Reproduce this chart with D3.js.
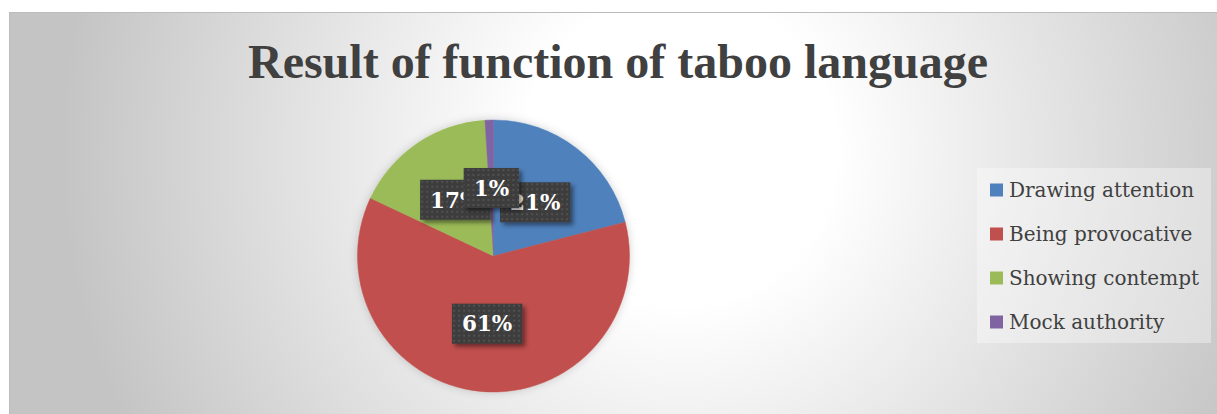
<!DOCTYPE html>
<html>
<head>
<script src="https://d3js.org/d3.v7.min.js"></script>
<style>
    body { margin: 0; background: #ffffff; }
    svg { display: block; }
</style>
</head>
<body>
<div id="chart"></div>
<script>
    // chart data
    var categories = ["Drawing attention", "Being provocative", "Showing contempt", "Mock authority"];
    var values = [21, 61, 17, 1];
    var colors = ["#4f81bd", "#c0504d", "#9bbb59", "#8064a2"];
    var title = "Result of function of taboo language";

    var width = 1217, height = 414;
    var svg = d3.select("#chart").append("svg")
        .attr("width", width)
        .attr("height", height);

    var defs = svg.append("defs");

    // soft grey radial background like the office chart area
    var bg = defs.append("radialGradient")
        .attr("id", "bg")
        .attr("gradientUnits", "userSpaceOnUse")
        .attr("cx", 680).attr("cy", 150).attr("r", 620);
    bg.append("stop").attr("offset", "0").attr("stop-color", "#ffffff");
    bg.append("stop").attr("offset", "0.25").attr("stop-color", "#ffffff");
    bg.append("stop").attr("offset", "1").attr("stop-color", "#c4c4c4");

    // dotted fill for the data label boxes
    var pat = defs.append("pattern")
        .attr("id", "dots")
        .attr("patternUnits", "userSpaceOnUse")
        .attr("width", 5).attr("height", 5);
    pat.append("rect").attr("width", 5).attr("height", 5).attr("fill", "#3d3d3d");
    pat.append("rect").attr("x", 1).attr("y", 1).attr("width", 2).attr("height", 2).attr("fill", "#515151");

    var shadow = defs.append("filter").attr("id", "shadow")
        .attr("x", "-30%").attr("y", "-30%").attr("width", "160%").attr("height", "160%");
    shadow.append("feDropShadow")
        .attr("dx", 3).attr("dy", 3).attr("stdDeviation", 2)
        .attr("flood-color", "#000").attr("flood-opacity", 0.45);

    var pieShadow = defs.append("filter").attr("id", "pieShadow")
        .attr("x", "-20%").attr("y", "-20%").attr("width", "140%").attr("height", "140%");
    pieShadow.append("feDropShadow")
        .attr("dx", 0).attr("dy", 0).attr("stdDeviation", 4)
        .attr("flood-color", "#000").attr("flood-opacity", 0.18);

    // chart area
    svg.append("rect")
        .attr("x", 9.5).attr("y", 12.5)
        .attr("width", width).attr("height", height)
        .attr("fill", "url(#bg)")
        .attr("stroke", "#bcbcbc");

    svg.append("text")
        .attr("x", 618).attr("y", 78)
        .attr("text-anchor", "middle")
        .attr("font-family", "Liberation Serif, Times New Roman, serif")
        .attr("font-weight", "bold")
        .attr("font-size", 48)
        .attr("fill", "#404040")
        .text(title);

    // pie
    var cx = 493.5, cy = 256, radius = 136;
    var data = categories.map(function(c, i) { return { name: c, value: values[i], color: colors[i] }; });

    var pie = d3.pie().sort(null).value(function(d) { return d.value; });
    var arc = d3.arc().innerRadius(0).outerRadius(radius);
    var arcs = pie(data);

    var g = svg.append("g").attr("transform", "translate(" + cx + "," + cy + ")");

    g.append("g").attr("filter", "url(#pieShadow)")
        .selectAll("path")
        .data(arcs)
        .enter().append("path")
        .attr("d", arc)
        .attr("fill", function(d) { return d.data.color; })
        .attr("stroke", function(d) { return d.data.color; })
        .attr("stroke-width", 0.5);

    // data labels, in slice order so the small slice's box sits on top
    var labels = g.selectAll(".lbl")
        .data(arcs)
        .enter().append("g")
        .attr("class", "lbl")
        .attr("transform", function(d) { return "translate(" + arc.centroid(d) + ")"; });

    labels.each(function(d) {
        var sel = d3.select(this);
        var t = sel.append("text")
            .attr("text-anchor", "middle")
            .attr("dy", "0.36em")
            .attr("font-family", "DejaVu Serif, serif")
            .attr("font-weight", "bold")
            .attr("font-size", 21.5)
            .attr("fill", "#ffffff")
            .text(Math.round(d.data.value) + "%");
        var bb = t.node().getBBox();
        sel.insert("rect", "text")
            .attr("x", bb.x - 10)
            .attr("y", -20)
            .attr("width", bb.width + 20)
            .attr("height", 40)
            .attr("fill", "url(#dots)")
            .attr("filter", "url(#shadow)");
    });

    // legend
    var legend = svg.append("g");
    legend.append("rect")
        .attr("x", 977).attr("y", 168)
        .attr("width", 234).attr("height", 175)
        .attr("fill", "#ffffff")
        .attr("fill-opacity", 0.35);

    var items = legend.selectAll(".item")
        .data(data)
        .enter().append("g")
        .attr("class", "item")
        .attr("transform", function(d, i) { return "translate(990," + (190 + i * 44) + ")"; });

    items.append("rect")
        .attr("x", 0).attr("y", -6.5)
        .attr("width", 13).attr("height", 13)
        .attr("fill", function(d) { return d.color; });

    items.append("text")
        .attr("x", 19).attr("y", 7)
        .attr("font-family", "DejaVu Serif, serif")
        .attr("font-size", 20)
        .attr("fill", "#404040")
        .text(function(d) { return d.name; });
</script>
</body>
</html>
